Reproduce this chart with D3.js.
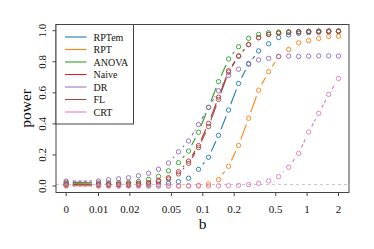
<!DOCTYPE html>
<html>
<head>
<meta charset="utf-8">
<script src="https://cdn.jsdelivr.net/npm/d3@7"></script>
<style>
  html, body { margin: 0; padding: 0; background: #fff; }
  svg { display: block; }
  text { font-family: "Liberation Serif", "DejaVu Serif", serif; fill: #111; }
</style>
</head>
<body>
<svg id="chart" width="374" height="249"></svg>
<script>
// ---- data ----
const bValues = [0, 0.01, 0.0125, 0.0156, 0.0194, 0.0242, 0.0302, 0.0376, 0.0469, 0.0585,
  0.073, 0.091, 0.1135, 0.1416, 0.1766, 0.2203, 0.2748, 0.3428, 0.4276, 0.5334,
  0.6654, 0.83, 1.035, 1.292, 1.611, 2];

const RPTem = [0.005, 0.005, 0.005, 0.005, 0.005, 0.006, 0.007, 0.011, 0.018, 0.028,
  0.05, 0.107, 0.185, 0.326, 0.489, 0.66, 0.784, 0.87, 0.916, 0.956,
  0.973, 0.983, 0.988, 0.99, 0.993, 0.995];
const RPT = [0.002, 0.001, 0.001, 0.001, 0.001, 0.001, 0.001, 0.001, 0.001, 0.002,
  0.002, 0.004, 0.013, 0.041, 0.127, 0.261, 0.436, 0.617, 0.736, 0.833,
  0.879, 0.922, 0.937, 0.951, 0.963, 0.964];
const ANOVA = [0.024, 0.02, 0.02, 0.021, 0.023, 0.03, 0.042, 0.062, 0.098, 0.15,
  0.225, 0.346, 0.507, 0.672, 0.818, 0.897, 0.951, 0.976, 0.987, 0.991,
  0.993, 0.995, 0.996, 0.997, 0.997, 0.998];
const Naive = [0.015, 0.012, 0.012, 0.013, 0.014, 0.018, 0.022, 0.036, 0.053, 0.092,
  0.16, 0.26, 0.403, 0.572, 0.742, 0.838, 0.912, 0.955, 0.976, 0.985,
  0.99, 0.993, 0.995, 0.996, 0.997, 0.997];
const DR = [0.031, 0.032, 0.04, 0.046, 0.053, 0.066, 0.082, 0.108, 0.148, 0.22,
  0.29, 0.396, 0.505, 0.613, 0.712, 0.752, 0.79, 0.812, 0.822, 0.835,
  0.836, 0.834, 0.836, 0.838, 0.838, 0.837];
const FL = [0.01, 0.008, 0.008, 0.009, 0.01, 0.012, 0.016, 0.028, 0.045, 0.078,
  0.146, 0.247, 0.383, 0.557, 0.733, 0.835, 0.91, 0.955, 0.976, 0.985,
  0.99, 0.993, 0.995, 0.996, 0.997, 0.997];
const CRT = [0, 0, 0, 0, 0, 0, 0, 0, 0, 0,
  0, 0, 0, 0.001, 0.002, 0.004, 0.009, 0.017, 0.033, 0.06,
  0.121, 0.21, 0.347, 0.468, 0.59, 0.692];

const seriesNames = ["RPTem", "RPT", "ANOVA", "Naive", "DR", "FL", "CRT"];
const seriesValues = [RPTem, RPT, ANOVA, Naive, DR, FL, CRT];
const seriesColors = ["#1f77b4", "#ff7f0e", "#2ca02c", "#d62728", "#9467bd", "#8c564b", "#e377c2"];

const xTickValues = [0, 0.01, 0.02, 0.05, 0.1, 0.2, 0.5, 1, 2];
const xTickLabels = ["0", "0.01", "0.02", "0.05", "0.1", "0.2", "0.5", "1", "2"];
const yTickValues = [0, 0.2, 0.4, 0.6, 0.8, 1.0];
const yTickLabels = ["0.0", "0.2", "0.4", "0.6", "0.8", "1.0"];
const refLevel = 0.01;
const zeroStandIn = 0.0049; // where b = 0 sits on the log axis

// ---- layout ----
const svg = d3.select("#chart");
const box = { left: 56, right: 349, top: 24.5, bottom: 192.5 };

const xLog = d3.scaleLog().domain([0.01, 2]).range([98.5, 338.5]);
const x = b => xLog(b === 0 ? zeroStandIn : b);
const y = d3.scaleLinear().domain([0, 1]).range([186, 30.7]);

svg.append("rect").attr("width", 374).attr("height", 249).attr("fill", "#fff");

// reference dashed line
svg.append("line")
  .attr("x1", box.left).attr("x2", box.right)
  .attr("y1", y(refLevel)).attr("y2", y(refLevel))
  .attr("stroke", "#c8c8c8").attr("stroke-width", 1.1).attr("stroke-dasharray", "3,3");

// series
const gap = 6.5;
const dashes = { DR: "3.5,2", CRT: "3.5,2" };
seriesNames.forEach((name, si) => {
  const vals = seriesValues[si];
  const pts = bValues.map((b, i) => [x(b), y(vals[i])]);
  const g = svg.append("g");
  const segs = [];
  for (let i = 0; i < pts.length - 1; i++) {
    const [x1, y1] = pts[i], [x2, y2] = pts[i + 1];
    const d = Math.hypot(x2 - x1, y2 - y1);
    if (d > 2 * gap) {
      const ux = (x2 - x1) / d, uy = (y2 - y1) / d;
      segs.push([x1 + ux * gap, y1 + uy * gap, x2 - ux * gap, y2 - uy * gap]);
    }
  }
  g.selectAll("line").data(segs).join("line")
    .attr("x1", d => d[0]).attr("y1", d => d[1])
    .attr("x2", d => d[2]).attr("y2", d => d[3])
    .attr("stroke", seriesColors[si]).attr("stroke-width", 1.1)
    .attr("stroke-dasharray", dashes[name] || null);
  g.selectAll("circle").data(pts).join("circle")
    .attr("cx", d => d[0]).attr("cy", d => d[1]).attr("r", 2.2)
    .attr("fill", "none").attr("stroke", seriesColors[si]).attr("stroke-width", 0.9);
});

// frame
svg.append("rect")
  .attr("x", box.left).attr("y", box.top)
  .attr("width", box.right - box.left).attr("height", box.bottom - box.top)
  .attr("fill", "none").attr("stroke", "#444").attr("stroke-width", 1);

// y axis
const gy = svg.append("g");
gy.selectAll("line.tick").data(yTickValues).join("line")
  .attr("x1", box.left - 3.5).attr("x2", box.left)
  .attr("y1", d => y(d)).attr("y2", d => y(d))
  .attr("stroke", "#444");
gy.selectAll("text").data(yTickValues).join("text")
  .attr("transform", d => `translate(45.5,${y(d)}) rotate(-90)`)
  .attr("text-anchor", "middle")
  .attr("font-size", 11)
  .text((d, i) => yTickLabels[i]);

// x axis
const gx = svg.append("g");
gx.selectAll("line").data(xTickValues).join("line")
  .attr("x1", d => x(d)).attr("x2", d => x(d))
  .attr("y1", box.bottom).attr("y2", box.bottom + 3.5)
  .attr("stroke", "#444");
gx.selectAll("text").data(xTickValues).join("text")
  .attr("x", d => x(d)).attr("y", 213)
  .attr("text-anchor", "middle")
  .attr("font-size", 11)
  .text((d, i) => xTickLabels[i]);

// axis titles
svg.append("text")
  .attr("x", (box.left + box.right) / 2).attr("y", 229)
  .attr("text-anchor", "middle").attr("font-size", 15.5).text("b");
svg.append("text")
  .attr("transform", `translate(31,${(y(0) + y(1)) / 2}) rotate(-90)`)
  .attr("text-anchor", "middle").attr("font-size", 15.5).text("power");

// legend
const lg = svg.append("g");
lg.append("rect")
  .attr("x", box.left).attr("y", box.top)
  .attr("width", 77.5).attr("height", 99.5)
  .attr("fill", "#fff").attr("stroke", "#444").attr("stroke-width", 1);
const legendWidths = { DR: 2, CRT: 2 };
const legendColors = { DR: "#c9b3e0", CRT: "#f2b6e0" };
seriesNames.forEach((name, i) => {
  const cy = 37 + i * 12.5;
  lg.append("line")
    .attr("x1", 65).attr("x2", 86.5).attr("y1", cy).attr("y2", cy)
    .attr("stroke", legendColors[name] || seriesColors[i])
    .attr("stroke-width", legendWidths[name] || 1.1);
  lg.append("text")
    .attr("x", 93.5).attr("y", cy + 3.5)
    .attr("font-size", 10).text(name);
});
</script>
</body>
</html>
